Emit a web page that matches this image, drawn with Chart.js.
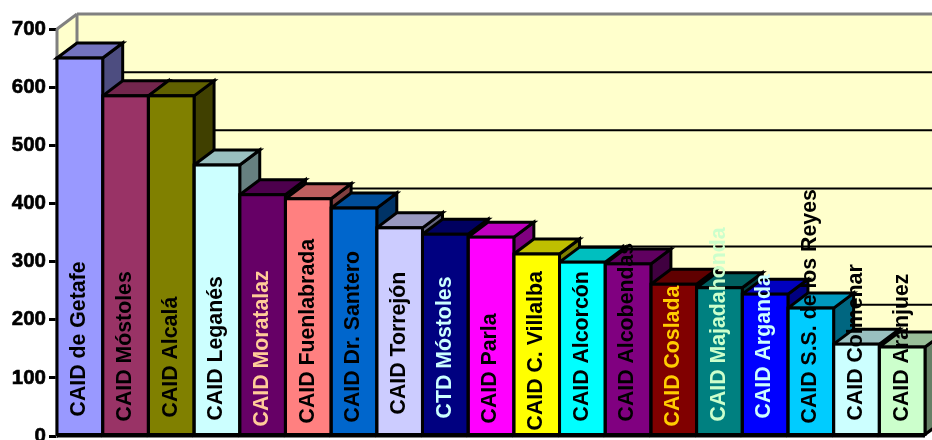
<!DOCTYPE html>
<html>
<head>
<meta charset="utf-8">
<title>CAID</title>
<script src="https://cdn.jsdelivr.net/npm/chart.js@4"></script>
<style>
    html, body { margin: 0; padding: 0; background: #fff; overflow: hidden; }
    canvas { display: block; }
</style>
</head>
<body>
<canvas id="chart" width="932" height="440"></canvas>
<script>
const centros = ['CAID de Getafe', 'CAID Móstoles', 'CAID Alcalá', 'CAID Leganés', 'CAID Moratalaz',
    'CAID Fuenlabrada', 'CAID Dr. Santero', 'CAID Torrejón', 'CTD Móstoles', 'CAID Parla',
    'CAID C. Villalba', 'CAID Alcorcón', 'CAID Alcobendas', 'CAID Coslada', 'CAID Majadahonda',
    'CAID Arganda', 'CAID S.S. de los Reyes', 'CAID Colmenar', 'CAID Aranjuez'];
const valores = [650, 585, 585, 466, 415, 408, 392, 358, 347, 342, 313, 299, 296, 261, 255, 244, 220, 158, 153];
const colores = ['#9999FF', '#993366', '#808000', '#CCFFFF', '#660066', '#FF8080', '#0066CC', '#CCCCFF', '#000080',
    '#FF00FF', '#FFFF00', '#00FFFF', '#800080', '#800000', '#008080', '#0000FF', '#00CCFF', '#CCFFFF', '#CCFFCC'];
const coloresTexto = ['#000', '#000', '#000', '#000', '#FFCC99', '#000', '#000', '#000', '#CCFFFF', '#000',
    '#000', '#000', '#000', '#FFCC00', '#CCFFCC', '#CCFFFF', '#000', '#000', '#000'];
// distance of each label from the base line, they are not aligned in the original
const margenTexto = [19, 14, 18, 15, 9, 12, 13, 21, 17, 12, 5, 14, 14, 9, 14, 17, 12, 15, 14];

const fondoX = 20, fondoY = 15;

function oscurecer(hex, f) {
    const n = parseInt(hex.slice(1), 16);
    return 'rgb(' + Math.round((n >> 16) * f) + ',' + Math.round(((n >> 8) & 255) * f) + ',' + Math.round((n & 255) * f) + ')';
}

function poligono(ctx, puntos, relleno, borde, ancho) {
    ctx.beginPath();
    puntos.forEach((p, i) => i ? ctx.lineTo(p[0], p[1]) : ctx.moveTo(p[0], p[1]));
    ctx.closePath();
    if (relleno) { ctx.fillStyle = relleno; ctx.fill(); }
    if (borde) { ctx.strokeStyle = borde; ctx.lineWidth = ancho; ctx.lineJoin = 'miter'; ctx.stroke(); }
}

function linea(ctx, x1, y1, x2, y2, color, ancho) {
    ctx.beginPath();
    ctx.moveTo(x1, y1);
    ctx.lineTo(x2, y2);
    ctx.strokeStyle = color;
    ctx.lineWidth = ancho;
    ctx.stroke();
}

const barras3d = {
    id: 'barras3d',
    beforeDatasetsDraw(chart) {
        const ctx = chart.ctx, area = chart.chartArea, y = chart.scales.y;
        const w = chart.width;
        ctx.save();
        // back wall and left wall
        ctx.fillStyle = '#FFFFCC';
        ctx.fillRect(area.left + fondoX, area.top - fondoY, w, area.bottom - area.top);
        poligono(ctx, [[area.left, area.top], [area.left + fondoX, area.top - fondoY],
            [area.left + fondoX, area.bottom - fondoY], [area.left, area.bottom]], '#FFFFCC');
        // floor corner on the right
        poligono(ctx, [[area.right, area.bottom], [area.right + fondoX, area.bottom - fondoY],
            [w + fondoX, chart.height], [area.right, chart.height]], '#FFFFFF');
        y.ticks.forEach(t => {
            const py = y.getPixelForValue(t.value);
            if (t.value > 0 && t.value < y.max) {
                linea(ctx, area.left + fondoX, py - fondoY, w, py - fondoY, '#000', 2);
            }
        });
        linea(ctx, area.left, area.top, area.left + fondoX, area.top - fondoY, '#808080', 3);
        linea(ctx, area.left + fondoX, area.top - fondoY, w, area.top - fondoY, '#808080', 3);
        linea(ctx, area.left + fondoX, area.top - fondoY, area.left + fondoX, area.bottom - fondoY, '#808080', 3);
        linea(ctx, area.left, area.top, area.left, area.bottom, '#808080', 3);
        // side and top of every bar, the fronts come later from the library
        chart.getDatasetMeta(0).data.forEach((b, i) => {
            const p = b.getProps(['x', 'y', 'base', 'width'], true);
            const izq = p.x - p.width / 2, der = p.x + p.width / 2;
            poligono(ctx, [[der, p.y], [der + fondoX, p.y - fondoY], [der + fondoX, p.base - fondoY], [der, p.base]],
                oscurecer(colores[i], 0.5), '#000', 3);
            poligono(ctx, [[izq, p.y], [izq + fondoX, p.y - fondoY], [der + fondoX, p.y - fondoY], [der, p.y]],
                oscurecer(colores[i], 0.75), '#000', 3);
        });
        ctx.restore();
    },
    afterDatasetsDraw(chart) {
        const ctx = chart.ctx, area = chart.chartArea;
        const barras = chart.getDatasetMeta(0).data;
        ctx.save();
        barras.forEach(b => {
            const p = b.getProps(['x', 'y', 'base', 'width'], true);
            ctx.strokeStyle = '#000';
            ctx.lineWidth = 3;
            ctx.strokeRect(p.x - p.width / 2, p.y, p.width, p.base - p.y);
        });
        linea(ctx, area.left, area.bottom, area.right, area.bottom, '#000', 3);
        ctx.font = 'bold 21.3px "Liberation Sans", Arial, sans-serif';
        ctx.textAlign = 'left';
        ctx.textBaseline = 'middle';
        barras.forEach((b, i) => {
            const p = b.getProps(['x', 'base'], true);
            ctx.save();
            ctx.translate(p.x - 0.5, p.base - margenTexto[i] + 1);
            ctx.rotate(-Math.PI / 2);
            ctx.fillStyle = coloresTexto[i];
            ctx.fillText(centros[i], 0, 0);
            ctx.restore();
        });
        ctx.restore();
    }
};

const ctx = document.getElementById('chart').getContext('2d');
new Chart(ctx, {
    type: 'bar',
    data: {
        labels: centros,
        datasets: [{
            data: valores,
            backgroundColor: colores,
            borderWidth: 0,
            barPercentage: 1,
            categoryPercentage: 1
        }]
    },
    options: {
        responsive: false,
        animation: false,
        layout: { padding: { top: 29, right: 7, bottom: 4, left: 0 } },
        plugins: { legend: { display: false }, tooltip: { enabled: false } },
        scales: {
            x: { display: false },
            y: {
                min: 0,
                max: 700,
                afterFit(scale) {
                    scale.width = 57;
                    scale.paddingTop = 0;
                    scale.paddingBottom = 0;
                },
                border: { color: '#808080', width: 2 },
                grid: { drawOnChartArea: false, color: '#000', lineWidth: 3, tickLength: 8 },
                ticks: {
                    stepSize: 100,
                    padding: 3,
                    color: '#000',
                    textStrokeColor: '#000',
                    textStrokeWidth: 0.6,
                    font: { family: '"Liberation Sans", Arial, sans-serif', size: 20.5, weight: 'bold' }
                }
            }
        }
    },
    plugins: [barras3d]
});
</script>
</body>
</html>
